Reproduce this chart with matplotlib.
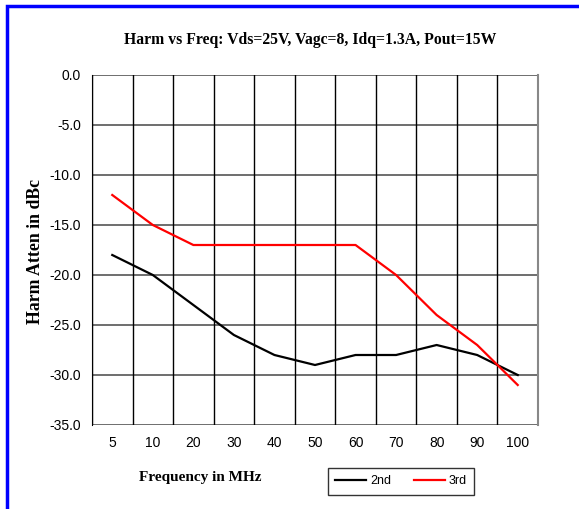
import matplotlib
matplotlib.use("Agg")
import matplotlib.pyplot as plt
from matplotlib.patches import Rectangle

freqs = ["5", "10", "20", "30", "40", "50", "60", "70", "80", "90", "100"]
harm_2nd = [-18, -20, -23, -26, -28, -29, -28, -28, -27, -28, -30]
harm_3rd = [-12, -15, -17, -17, -17, -17, -17, -20, -24, -27, -31]
y_ticks = [0, -5, -10, -15, -20, -25, -30, -35]

fig = plt.figure(figsize=(5.79, 5.09), dpi=100)
ax = fig.add_axes([92/579, 84/509, 446/579, 350/509])

# blue frame around the whole chart
fig.patches.append(Rectangle((7/579, -0.05), 1.2, 1 - 6/509 + 0.05, transform=fig.transFigure,
                             fill=False, edgecolor="#0000ff", linewidth=2.5))

x = range(len(freqs))
ax.plot(x, harm_2nd, color="black", lw=1.6, label="2nd")
ax.plot(x, harm_3rd, color="#ff0000", lw=1.6, label="3rd")

ax.set_xlim(-0.5, len(freqs) - 0.5)
ax.set_ylim(-35, 0)
ax.set_xticks(list(x))
ax.set_xticklabels(freqs, family="Liberation Sans", fontsize=10)
ax.set_yticks(y_ticks)
ax.set_yticklabels([f"{v:.1f}" for v in y_ticks], family="Liberation Sans", fontsize=10)
ax.tick_params(length=0, pad=8)

for v in y_ticks:
    ax.axhline(v, color="#555555", lw=1.2, zorder=0)
for i in range(len(freqs) + 1):
    ax.axvline(i - 0.5, color="black", lw=1.0, zorder=0)

for s in ["top", "bottom"]:
    ax.spines[s].set_visible(False)
ax.spines["left"].set_color("black")
ax.spines["right"].set_color("#888888")
ax.spines["right"].set_linewidth(1.5)

fig.text(310/579, 1 - 40/509, "Harm vs Freq: Vds=25V, Vagc=8, Idq=1.3A, Pout=15W",
         ha="center", va="center", family="Liberation Serif", fontweight="bold", fontsize=11.3)
fig.text(200/579, 1 - 477/509, "Frequency in MHz", ha="center", va="center",
         family="Liberation Serif", fontweight="bold", fontsize=11)
fig.text(35/579, 1 - 251/509, "Harm Atten in dBc", ha="center", va="center", rotation=90,
         family="Liberation Serif", fontweight="bold", fontsize=12.8)

leg = fig.legend(loc="center", bbox_to_anchor=(401/579, 1 - 481/509), ncol=2, frameon=True,
                 fancybox=False, edgecolor="black", prop={"family": "Liberation Sans", "size": 9},
                 handlelength=2.5, columnspacing=1.8, handletextpad=0.3, borderpad=0.6)
leg.get_frame().set_linewidth(1.0)

fig.savefig("out.png", dpi=100)
